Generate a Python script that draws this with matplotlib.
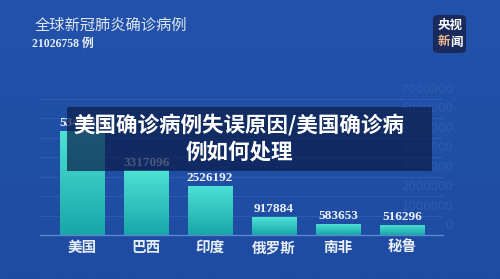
import numpy as np
import matplotlib
matplotlib.use('Agg')
import matplotlib.pyplot as plt
from matplotlib.patches import Rectangle, FancyBboxPatch

plt.rcParams['font.family'] = ['Noto Sans CJK SC', 'DejaVu Sans']

countries = ['美国', '巴西', '印度', '俄罗斯', '南非', '秘鲁']
cases = [5340000, 3317096, 2526192, 917884, 583653, 516296]
labels = ['5340000', '3317096', '2526192', '917884', '583653', '516296']
y_ticks = [0, 1000000, 2000000, 3000000, 4000000, 5000000, 6000000, 7000000]
title = '全球新冠肺炎确诊病例'
total = '21026758 例'
headline = '美国确诊病例失误原因/美国确诊病\n例如何处理'

W, H = 500, 279
fig = plt.figure(figsize=(W / 100, H / 100), dpi=100)

# background
bg = fig.add_axes([0, 0, 1, 1])
grad = np.linspace(0, 1, 256).reshape(-1, 1)
top_c = np.array([34, 82, 170]) / 255
bot_c = np.array([30, 76, 162]) / 255
img = top_c * (1 - grad[..., None]) + bot_c * grad[..., None]
bg.imshow(img, aspect='auto', extent=[0, 1, 0, 1])
bg.axis('off')

def px(x0, y0, x1, y1):
    return [x0 / W, 1 - y1 / H, (x1 - x0) / W, (y1 - y0) / H]

ax = fig.add_axes(px(40, 88.75, 443, 235))
ax.set_facecolor('none')
x = np.arange(len(countries))
bars = ax.bar(x, cases, width=0.7, color='#2cc4c0', zorder=2)

# gradient fill inside bars
bar_grad = np.linspace(0, 1, 256).reshape(-1, 1)
c_top = np.array([78, 226, 214]) / 255
c_bot = np.array([24, 166, 168]) / 255
bar_img = c_top * (1 - bar_grad[..., None]) + c_bot * bar_grad[..., None]
for b in bars:
    bx, by = b.get_x(), b.get_y()
    bw, bh = b.get_width(), b.get_height()
    im = ax.imshow(bar_img, aspect='auto', extent=[bx, bx + bw, by, by + bh], zorder=3)
    im.set_clip_path(b)
ax.set_xlim(-0.66, 5.64)
ax.set_ylim(0, 7500000)

for xi, v, lab in zip(x, cases, labels):
    ax.text(xi, v + 90000, lab, ha='center', va='bottom', color='#eef2f8',
            fontsize=9.5, fontweight='bold', family=['Liberation Serif'], zorder=4)

for t in y_ticks:
    ax.text(1.025, t + 130000, str(t), transform=ax.get_yaxis_transform(),
            ha='right', va='bottom', color='#2d5bb0', fontsize=8.5,
            family=['Liberation Sans Narrow', 'DejaVu Sans'], clip_on=False)

ax.set_yticks(y_ticks[1:])
ax.set_yticklabels([])
ax.tick_params(axis='y', length=0)
ax.yaxis.grid(True, color='#2f5cb0', linewidth=0.7)
ax.set_axisbelow(True)
ax.set_xticks(x)
ax.set_xticklabels(countries, color='#e8edf6', fontsize=10.5, fontweight='bold')
ax.tick_params(axis='x', length=0, pad=3)
for s in ['top', 'right', 'left']:
    ax.spines[s].set_visible(False)
ax.spines['bottom'].set_color('#5f86cc')
ax.spines['bottom'].set_linewidth(1.0)

# title block
fig.text(35 / W, 1 - 25 / H, title, color='#dfe6f2', fontsize=11, va='center', ha='left')
fig.text(32 / W, 1 - 44 / H, total, color='#e8edf6', fontsize=8.5, fontweight='bold',
         va='center', ha='left', family=['Liberation Serif', 'Noto Sans CJK SC'])

# logo
logo = FancyBboxPatch((433 / W, 1 - 53 / H), 33 / W, 38 / H,
                      boxstyle='round,pad=0,rounding_size=0.012',
                      transform=fig.transFigure, facecolor='#1b2a5c', edgecolor='none', zorder=5)
fig.add_artist(logo)
fig.text(450 / W, 1 - 25 / H, '央视', color='white', fontsize=9, fontweight='bold',
         ha='center', va='center', zorder=6)
fig.text(443.5 / W, 1 - 42 / H, '新', color='#f3b98a', fontsize=9, fontweight='bold',
         ha='center', va='center', zorder=6)
fig.text(456.5 / W, 1 - 42 / H, '闻', color='white', fontsize=9, fontweight='bold',
         ha='center', va='center', zorder=6)

# headline overlay
ov = Rectangle((67 / W, 1 - 171 / H), (432 - 67) / W, (171 - 107) / H,
               transform=fig.transFigure, facecolor='#0c1d4a', alpha=0.72,
               edgecolor='none', zorder=10)
fig.add_artist(ov)
fig.text(239 / W, 1 - 138 / H, headline, color='white', fontsize=15.5, fontweight='bold',
         ha='center', va='center', linespacing=1.3, zorder=11)

fig.savefig('out.png', dpi=100)
